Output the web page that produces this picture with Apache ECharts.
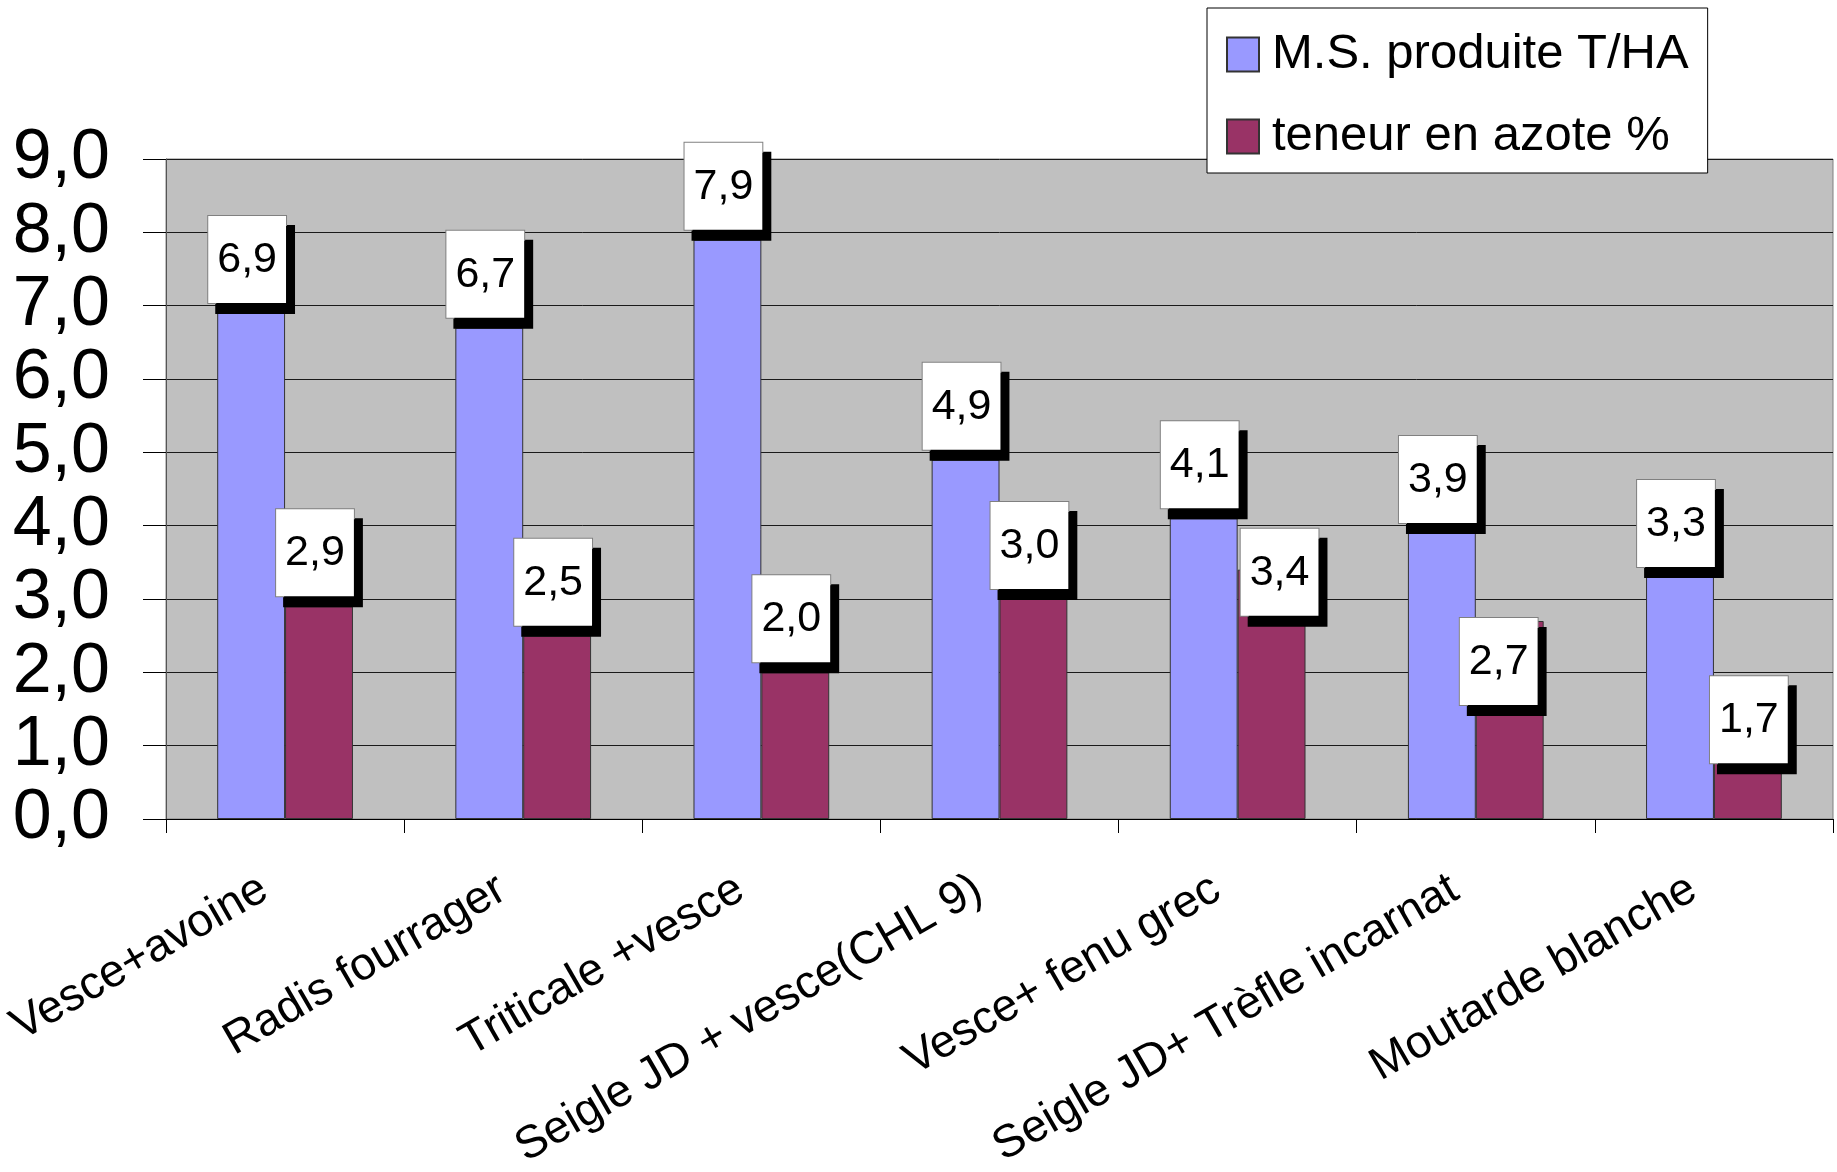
<!DOCTYPE html>
<html>
<head>
<meta charset="utf-8">
<script src="https://cdn.jsdelivr.net/npm/echarts@6/dist/echarts.min.js"></script>
<style>
html,body{margin:0;padding:0;background:#fff;}
#chart{width:1837px;height:1172px;}
</style>
</head>
<body>
<div id="chart"></div>
<script>
const categories = ['Vesce+avoine', 'Radis fourrager', 'Triticale +vesce', 'Seigle JD + vesce(CHL 9)', 'Vesce+ fenu grec', 'Seigle JD+ Trèfle incarnat', 'Moutarde blanche'];
const seriesNames = ['M.S. produite T/HA', 'teneur en azote %'];
const msValues = [6.9, 6.7, 7.9, 4.9, 4.1, 3.9, 3.3];
const azoteValues = [2.9, 2.5, 2.0, 3.0, 3.4, 2.7, 1.7];

const FONT = "'Liberation Sans', Arial, sans-serif";
const fmt = v => Number(v).toFixed(1).replace('.', ',');

// label placement tweaks (styling only)
const azoteLabelOffsets = {4: [8, 56], 5: [-11, 94], 6: [1, 79]};

const labelBase = {
  show: true,
  position: 'top',
  distance: 10,
  offset: [-4, 0],
  formatter: p => fmt(p.value),
  fontFamily: FONT,
  fontSize: 43,
  lineHeight: 44,
  color: '#000',
  backgroundColor: '#fff',
  borderColor: '#808080',
  borderWidth: 1,
  padding: [22, 9, 21, 9],
  shadowColor: '#000',
  shadowBlur: 0,
  shadowOffsetX: 8,
  shadowOffsetY: 10
};

const azoteData = azoteValues.map((v, i) => {
  if (azoteLabelOffsets[i]) {
    return {value: v, label: {offset: azoteLabelOffsets[i]}};
  }
  return v;
});

const chart = echarts.init(document.getElementById('chart'), null, {renderer: 'canvas'});
chart.setOption({
  animation: false,
  backgroundColor: '#fff',
  textStyle: {fontFamily: FONT},
  grid: {
    left: 166, right: 4, top: 159, bottom: 353,
    containLabel: false, outerBoundsMode: 'none',
    show: true, backgroundColor: '#C0C0C0', borderColor: '#808080', borderWidth: 1
  },
  legend: {
    orient: 'vertical',
    left: 1207, top: 8,
    padding: [22, 19, 12, 19],
    backgroundColor: '#fff',
    borderColor: '#000',
    borderWidth: 1,
    itemWidth: 32,
    itemHeight: 34,
    itemGap: 33,
    icon: 'rect',
    data: seriesNames,
    textStyle: {fontFamily: FONT, fontSize: 49, color: '#000', padding: [0, 0, 0, 8]}
  },
  xAxis: {
    type: 'category',
    data: categories,
    axisLine: {show: true, lineStyle: {color: '#000', width: 1}},
    axisTick: {show: true, length: 14, lineStyle: {color: '#000'}},
    axisLabel: {
      interval: 0, rotate: 30, margin: 55,
      fontFamily: FONT, fontSize: 46, color: '#000',
      padding: [0, 24, 0, 0]
    },
    splitLine: {show: false}
  },
  yAxis: {
    type: 'value',
    min: 0, max: 9, interval: 1,
    axisLine: {show: true, lineStyle: {color: '#555', width: 1}},
    axisTick: {show: true, length: 23, lineStyle: {color: '#000'}},
    axisLabel: {margin: 56, fontFamily: FONT, fontSize: 70, color: '#000', formatter: v => fmt(v)},
    splitLine: {show: true, lineStyle: {color: '#1a1a1a', width: 1}}
  },
  series: [
    {
      name: seriesNames[0], type: 'bar', data: msValues,
      barGap: '0%', barCategoryGap: '43%',
      itemStyle: {color: '#9999FF', borderColor: '#333333', borderWidth: 1},
      label: labelBase,
      z: 2
    },
    {
      name: seriesNames[1], type: 'bar', data: azoteData,
      barGap: '0%', barCategoryGap: '43%',
      itemStyle: {color: '#993366', borderColor: '#333333', borderWidth: 1},
      label: labelBase,
      z: 3
    }
  ]
});
</script>
</body>
</html>
